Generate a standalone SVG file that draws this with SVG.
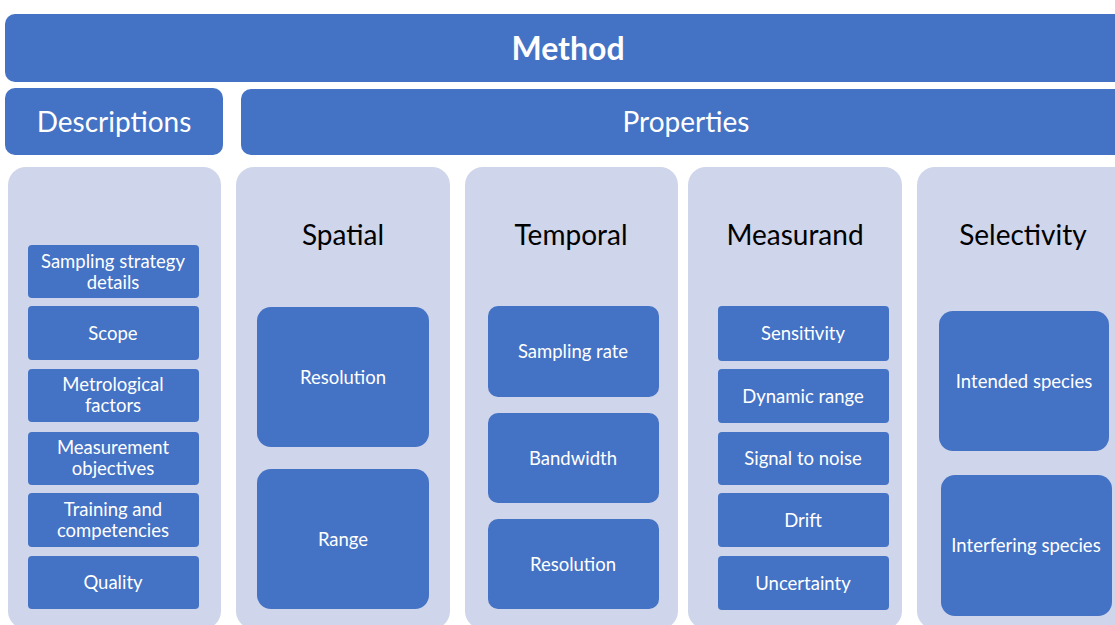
<svg xmlns="http://www.w3.org/2000/svg" width="1115" height="625" viewBox="0 0 1115 625">
<style>
.hdr{fill:#4472C4}
.col{fill:#CFD5EA}
.itm{fill:#4472C4}
text{font-family:Lato,"Open Sans","Liberation Sans",sans-serif;text-anchor:middle}
.t-white{fill:#FFFFFF;font-size:18.5px}
.t-head{fill:#000000;font-size:28px}
.t-big{fill:#FFFFFF;font-size:28px}
.t-bold{fill:#FFFFFF;font-size:32px;font-weight:bold}
</style>
<rect width="1115" height="625" fill="#FFFFFF"/>
<g id="method"><rect class="hdr" x="5" y="14" width="1130" height="68" rx="10"/><text class="t-bold" x="568" y="59.5">Method</text></g>
<g id="descriptions"><rect class="hdr" x="5" y="88" width="218" height="67" rx="10"/><text class="t-big" x="114" y="132">Descriptions</text></g>
<g id="properties"><rect class="hdr" x="241" y="89" width="900" height="66" rx="10"/><text class="t-big" x="686" y="132">Properties</text></g>

<g id="col-descriptions">
<rect class="col" x="8" y="167" width="213" height="462" rx="18"/>
<g id="d1"><rect class="itm" x="28" y="245" width="171" height="53" rx="4"/><text class="t-white" x="113" y="267.5">Sampling strategy</text><text class="t-white" x="113" y="288.5">details</text></g>
<g id="d2"><rect class="itm" x="28" y="306" width="171" height="54" rx="4"/><text class="t-white" x="113" y="339.5">Scope</text></g>
<g id="d3"><rect class="itm" x="28" y="369" width="171" height="53" rx="4"/><text class="t-white" x="113" y="391">Metrological</text><text class="t-white" x="113" y="412">factors</text></g>
<g id="d4"><rect class="itm" x="28" y="432" width="171" height="53" rx="4"/><text class="t-white" x="113" y="454">Measurement</text><text class="t-white" x="113" y="475">objectives</text></g>
<g id="d5"><rect class="itm" x="28" y="493" width="171" height="54" rx="4"/><text class="t-white" x="113" y="515.5">Training and</text><text class="t-white" x="113" y="536.5">competencies</text></g>
<g id="d6"><rect class="itm" x="28" y="556" width="171" height="53" rx="4"/><text class="t-white" x="113" y="589">Quality</text></g>
</g>

<g id="col-spatial">
<rect class="col" x="236" y="167" width="214" height="462" rx="18"/>
<text class="t-head" x="343" y="245">Spatial</text>
<g id="s1"><rect class="itm" x="257" y="307" width="172" height="140" rx="14"/><text class="t-white" x="343" y="383.5">Resolution</text></g>
<g id="s2"><rect class="itm" x="257" y="469" width="172" height="140" rx="14"/><text class="t-white" x="343" y="545.5">Range</text></g>
</g>

<g id="col-temporal">
<rect class="col" x="465" y="167" width="213" height="462" rx="18"/>
<text class="t-head" x="571" y="245">Temporal</text>
<g id="t1"><rect class="itm" x="488" y="306" width="171" height="91" rx="10"/><text class="t-white" x="573" y="358">Sampling rate</text></g>
<g id="t2"><rect class="itm" x="488" y="413" width="171" height="90" rx="10"/><text class="t-white" x="573" y="464.5">Bandwidth</text></g>
<g id="t3"><rect class="itm" x="488" y="519" width="171" height="90" rx="10"/><text class="t-white" x="573" y="570.5">Resolution</text></g>
</g>

<g id="col-measurand">
<rect class="col" x="688" y="167" width="214" height="462" rx="18"/>
<text class="t-head" x="795" y="245">Measurand</text>
<g id="m1"><rect class="itm" x="718" y="306" width="171" height="55" rx="4"/><text class="t-white" x="803" y="340">Sensitivity</text></g>
<g id="m2"><rect class="itm" x="718" y="369" width="171" height="54" rx="4"/><text class="t-white" x="803" y="402.5">Dynamic range</text></g>
<g id="m3"><rect class="itm" x="718" y="432" width="171" height="53" rx="4"/><text class="t-white" x="803" y="465">Signal to noise</text></g>
<g id="m4"><rect class="itm" x="718" y="493" width="171" height="54" rx="4"/><text class="t-white" x="803" y="526.5">Drift</text></g>
<g id="m5"><rect class="itm" x="718" y="556" width="171" height="54" rx="4"/><text class="t-white" x="803" y="589.5">Uncertainty</text></g>
</g>

<g id="col-selectivity">
<rect class="col" x="917" y="167" width="214" height="462" rx="18"/>
<text class="t-head" x="1023" y="245">Selectivity</text>
<g id="x1"><rect class="itm" x="939" y="311" width="170" height="140" rx="14"/><text class="t-white" x="1024" y="387.5">Intended species</text></g>
<g id="x2"><rect class="itm" x="941" y="475" width="171" height="141" rx="14"/><text class="t-white" x="1026" y="552">Interfering species</text></g>
</g>
<g id="connectors"></g>
</svg>
